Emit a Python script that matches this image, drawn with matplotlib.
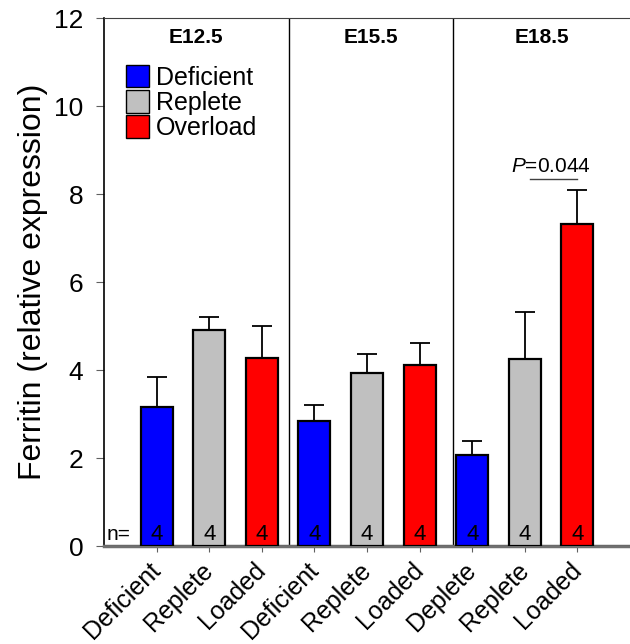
import numpy as np
import matplotlib.pyplot as plt
from matplotlib.patches import Patch

# data
labels = ['Deficient', 'Replete', 'Loaded', 'Deficient', 'Replete', 'Loaded',
          'Deplete', 'Replete', 'Loaded']
values = [3.16, 4.92, 4.28, 2.85, 3.93, 4.11, 2.07, 4.24, 7.32]
errors = [0.68, 0.28, 0.72, 0.35, 0.43, 0.50, 0.32, 1.08, 0.76]
n_counts = [4, 4, 4, 4, 4, 4, 4, 4, 4]
groups = ['E12.5', 'E15.5', 'E18.5']
colors = ['#0000ff', '#c0c0c0', '#ff0000'] * 3
legend_names = ['Deficient', 'Replete', 'Overload']

plt.rcParams['font.family'] = ['Liberation Sans', 'DejaVu Sans']
plt.rcParams['mathtext.fontset'] = 'custom'
plt.rcParams['mathtext.it'] = 'Liberation Sans:italic'
plt.rcParams['mathtext.rm'] = 'Liberation Sans'

fig = plt.figure(figsize=(6.3, 6.44), dpi=100)
ax = fig.add_axes([104 / 630, 1 - 546 / 644, 1 - 104 / 630, 528 / 644])

x = np.arange(len(values))
ax.bar(x, values, width=0.61, color=colors, edgecolor='black', linewidth=1.6,
       zorder=3)
ax.errorbar(x, values, yerr=[np.zeros(len(errors)), errors], fmt='none',
            ecolor='black', elinewidth=1.3, capsize=7, capthick=1.3, zorder=2)

ax.set_xlim(-1.0, 9.0)
ax.set_ylim(0, 12)

# panel separators
for sx in [2.51, 5.64]:
    ax.axvline(sx, color='black', linewidth=1, zorder=1)

# panel titles
panel_edges = [-1.0, 2.51, 5.64, 9.0]
for i, g in enumerate(groups):
    ax.text((panel_edges[i] + panel_edges[i + 1]) / 2, 11.55, g, ha='center',
            va='center', fontsize=15, fontweight='bold')

# n labels
ax.text(-0.72, 0.27, 'n=', ha='center', va='center', fontsize=15)
for xi, n in zip(x, n_counts):
    ax.text(xi, 0.27, str(n), ha='center', va='center', fontsize=16, zorder=4)

# significance
ax.plot([7.1, 8.0], [8.34, 8.34], color='#404040', linewidth=1)
ax.text(7.5, 8.63, r'$P$=0.044', ha='center', va='center', fontsize=15)

# legend
handles = [Patch(facecolor=c, edgecolor='black', linewidth=1)
           for c in colors[:3]]
ax.legend(handles, legend_names, loc='upper left',
          bbox_to_anchor=(0.022, 0.93), frameon=False, fontsize=18,
          handlelength=0.95, handleheight=1.0, handletextpad=0.25,
          labelspacing=0.02, borderaxespad=0)

ax.set_yticks(np.arange(0, 13, 2))
ax.tick_params(axis='y', labelsize=19, direction='out', length=6,
               color='#606060', pad=9)
ax.set_xticks(x)
ax.set_xticklabels(labels, rotation=45, ha='right', va='center',
                   rotation_mode='anchor', fontsize=18)
ax.tick_params(axis='x', direction='out', length=4, color='#606060', pad=11)
ax.set_ylabel('Ferritin (relative expression)', fontsize=23, labelpad=4)

ax.spines['right'].set_visible(False)
ax.spines['top'].set_color('#404040')
ax.spines['left'].set_linewidth(1.2)
ax.spines['bottom'].set_linewidth(2.5)
ax.spines['bottom'].set_color('#707070')
ax.axhline(0.01, color='black', linewidth=0.8, zorder=4)

fig.savefig('out.png', dpi=100)
